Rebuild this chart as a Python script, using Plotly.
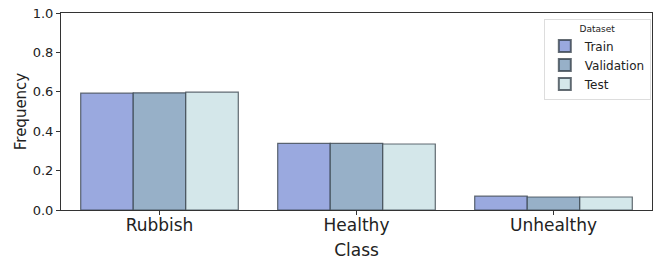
import plotly.graph_objects as go

categories = ["Rubbish", "Healthy", "Unhealthy"]
series_names = ["Train", "Validation", "Test"]
train = [0.593, 0.338, 0.070]
validation = [0.595, 0.338, 0.066]
test = [0.598, 0.335, 0.066]
yticks = [0.0, 0.2, 0.4, 0.6, 0.8, 1.0]

colors = ["#9aa9df", "#97b0c8", "#d4e7ea"]
values = [train, validation, test]

fig = go.Figure()
for name, vals, c in zip(series_names, values, colors):
    fig.add_trace(go.Bar(
        x=categories, y=vals, name=name,
        marker=dict(color=c, line=dict(color="rgba(50,60,70,0.75)", width=1.2)),
    ))

fig.update_layout(
    width=654, height=260,
    margin=dict(l=61, r=2, t=13, b=50),
    paper_bgcolor="white", plot_bgcolor="white",
    barmode="group", bargap=0.2, bargroupgap=0,
    font=dict(family="DejaVu Sans", color="#222"),
    showlegend=True,
    legend=dict(
        title=dict(text="Dataset", font=dict(size=9), side="top center"),
        x=0.998, y=0.97, xanchor="right", yanchor="top",
        bordercolor="#dddddd", borderwidth=1, bgcolor="white",
        font=dict(size=12), itemsizing="constant", tracegroupgap=0,
    ),
    xaxis=dict(
        automargin=False,
        title=dict(text="Class", font=dict(size=17), standoff=15),
        tickfont=dict(size=17), ticklabelstandoff=-4,
        showline=True, linecolor="#333", linewidth=1, mirror=True,
        ticks="outside", ticklen=4, tickcolor="#333",
    ),
    yaxis=dict(
        automargin=False,
        title=dict(text="Frequency", font=dict(size=15), standoff=2),
        range=[0, 1.0], tickvals=yticks, ticktext=[f"{v:.1f}" for v in yticks],
        tickfont=dict(size=13), ticklabeloverflow="allow",
        showline=True, linecolor="#333", linewidth=1, mirror=True,
        ticks="outside", ticklen=4, tickcolor="#333",
        showgrid=False, zeroline=False,
    ),
)

fig.write_html("out.html", config={"displayModeBar": False},
               post_script="document.body.style.margin='0px';")
